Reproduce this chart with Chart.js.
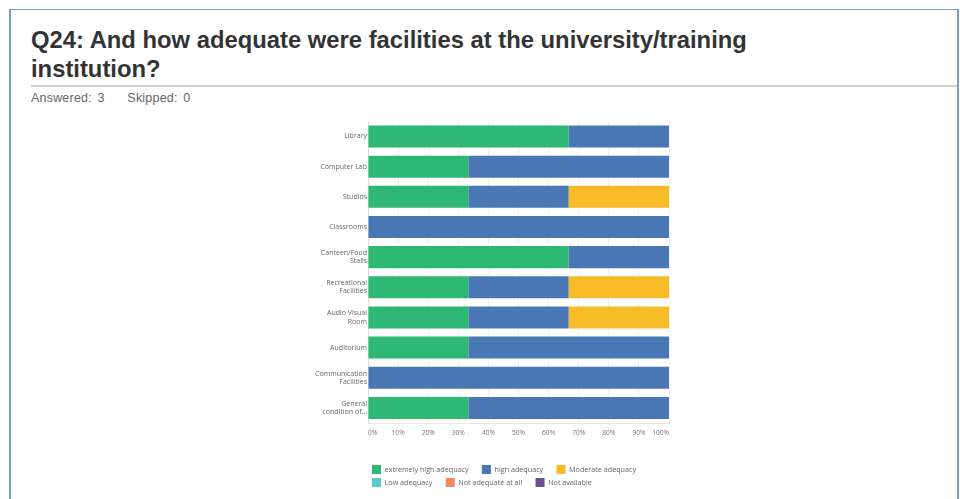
<!DOCTYPE html>
<html>
<head>
<meta charset="utf-8">
<script src="https://cdn.jsdelivr.net/npm/chart.js@4.4.1/dist/chart.umd.min.js"></script>
<style>
    html, body { margin: 0; padding: 0; background: #fff; }
    body { width: 960px; height: 499px; position: relative; overflow: hidden; font-family: "Liberation Sans", Arial, sans-serif; }
    #panel {
        position: absolute; left: 9px; top: 9px; width: 946px; height: 520px;
        border: 1px solid #7a9ccf; border-right-width: 2px; border-left-width: 2px;
    }
    #title {
        position: absolute; left: 31px; top: 25px; width: 800px;
        font-size: 23.8px; font-weight: bold; line-height: 29px; color: #333;
    }
    #rule { position: absolute; left: 31px; top: 85px; width: 926px; height: 2px; background: #d2d2d2; }
    #stats { position: absolute; left: 31px; top: 91px; font-size: 12.5px; color: #666; word-spacing: 2px; letter-spacing: 0.2px; }
    #chartBox { position: absolute; left: 300px; top: 112px; width: 375px; height: 385px; }
</style>
</head>
<body>
<div id="panel"></div>
<div id="title">Q24: And how adequate were facilities at the university/training institution?</div>
<div id="rule"></div>
<div id="stats">Answered: 3&nbsp;&nbsp;&nbsp; Skipped: 0</div>
<div id="chartBox"><canvas id="CanvasFacilities"></canvas></div>

<script>
    // facilities asked about (two-line labels as arrays)
    const facilities = [
        "Library",
        "Computer Lab",
        "Studios",
        "Classrooms",
        ["Canteen/Food", "Stalls"],
        ["Recreational", "Facilities"],
        ["Audio Visual", "Room"],
        "Auditorium",
        ["Communication", "Facilities"],
        ["General", "condition of..."]
    ];

    // share of respondents (%) per answer option, same order as facilities
    const extremelyHigh = [66.67, 33.33, 33.33, 0, 66.67, 33.33, 33.33, 33.33, 0, 33.33];
    const highAdequacy = [33.33, 66.67, 33.33, 100, 33.33, 33.33, 33.33, 66.67, 100, 66.67];
    const moderateAdequacy = [0, 0, 33.34, 0, 0, 33.34, 33.34, 0, 0, 0];
    const lowAdequacy = [0, 0, 0, 0, 0, 0, 0, 0, 0, 0];
    const notAdequate = [0, 0, 0, 0, 0, 0, 0, 0, 0, 0];
    const notAvailable = [0, 0, 0, 0, 0, 0, 0, 0, 0, 0];

    const xTicks = [0, 10, 20, 30, 40, 50, 60, 70, 80, 90, 100];

    const series = [
        { label: "extremely high adequacy", data: extremelyHigh, color: "#2fb774" },
        { label: "high adequacy", data: highAdequacy, color: "#4a78b5" },
        { label: "Moderate adequacy", data: moderateAdequacy, color: "#f8bb28" },
        { label: "Low adequacy", data: lowAdequacy, color: "#5ec8d0" },
        { label: "Not adequate at all", data: notAdequate, color: "#f48a5c" },
        { label: "Not available", data: notAvailable, color: "#6c4f91" }
    ];

    const smallFont = { family: "'Open Sans', sans-serif", size: 6.6 };

    new Chart(document.getElementById("CanvasFacilities"), {
        type: "bar",
        data: {
            labels: facilities,
            datasets: series.map(s => ({
                label: s.label,
                data: s.data,
                backgroundColor: s.color,
                borderWidth: 0,
                categoryPercentage: 1,
                barPercentage: 0.73
            }))
        },
        options: {
            indexAxis: "y",
            responsive: true,
            maintainAspectRatio: false,
            animation: false,
            layout: { padding: { top: 5, right: 5, bottom: 0, left: 0 } },
            scales: {
                x: {
                    stacked: true,
                    min: 0,
                    max: 100,
                    afterBuildTicks: axis => { axis.ticks = xTicks.map(v => ({ value: v })); },
                    afterFit: axis => { axis.height = 38; },
                    ticks: { callback: v => v + "%", color: "#777", font: smallFont, maxRotation: 0, padding: 6, align: "inner" },
                    grid: { color: "#f0f0f0", drawTicks: false },
                    border: { color: "#e6e6e6" }
                },
                y: {
                    stacked: true,
                    afterFit: axis => { axis.width = 68; },
                    ticks: { color: "#666", font: { family: "'Open Sans', sans-serif", size: 7 }, padding: 1, autoSkip: false },
                    grid: { display: false, drawTicks: false },
                    border: { color: "#dcdcdc" }
                }
            },
            plugins: {
                tooltip: { enabled: false },
                legend: {
                    position: "bottom",
                    align: "start",
                    fullSize: false,
                    labels: {
                        boxWidth: 9,
                        boxHeight: 9,
                        padding: 4,
                        color: "#666",
                        font: { family: "'Open Sans', sans-serif", size: 7.2 },
                        // trailing spaces widen the gap between items without growing the row height
                        generateLabels: chart => Chart.defaults.plugins.legend.labels.generateLabels(chart)
                            .map(item => ({ ...item, text: item.text + "\u00a0\u00a0\u00a0\u00a0\u00a0" }))
                    }
                }
            }
        }
    });
</script>
</body>
</html>
